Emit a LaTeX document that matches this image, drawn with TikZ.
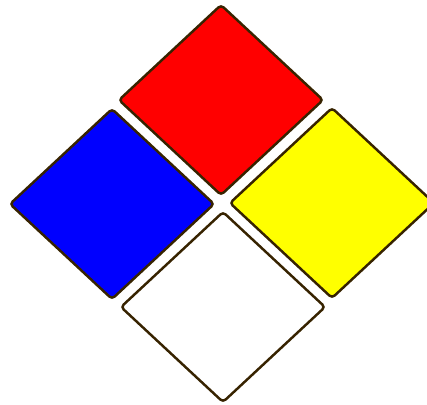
\documentclass[tikz,border=0pt]{standalone}
\usepackage{tikz}
\definecolor{nfred}{RGB}{255,0,0}
\definecolor{nfblue}{RGB}{0,0,255}
\definecolor{nfyellow}{RGB}{255,255,0}
\definecolor{nfwhite}{RGB}{255,255,255}
\definecolor{nfedge}{RGB}{55,35,0}
\begin{document}
\begin{tikzpicture}[x=0.2mm,y=0.2mm] %1 unit = 1 pixel of the 427 by 404 picture
\useasboundingbox (0,0) rectangle (427,404); %Fixes the size of the picture
\clip (0,0) rectangle (427,404); %Crops the yellow corner at the right edge
%Template for one diamond of the sign, centred at the origin
\def\diamondpath{(0,95)--(102,0)--(0,-95)--(-102,0)--cycle}
\begin{scope}[shift={(221,304)}]
\filldraw[fill=nfred,draw=nfedge,line width=1.4pt,rounded corners=2pt] \diamondpath; %Top diamond
\end{scope}
\begin{scope}[shift={(112,200)}]
\filldraw[fill=nfblue,draw=nfedge,line width=1.4pt,rounded corners=2pt] \diamondpath; %Left diamond
\end{scope}
\begin{scope}[shift={(332,201)}]
\filldraw[fill=nfyellow,draw=nfedge,line width=1.4pt,rounded corners=2pt] \diamondpath; %Right diamond
\end{scope}
\begin{scope}[shift={(223,97)}]
\filldraw[fill=nfwhite,draw=nfedge,line width=1.4pt,rounded corners=2pt] \diamondpath; %Bottom diamond
\end{scope}
\end{tikzpicture}
\end{document}
